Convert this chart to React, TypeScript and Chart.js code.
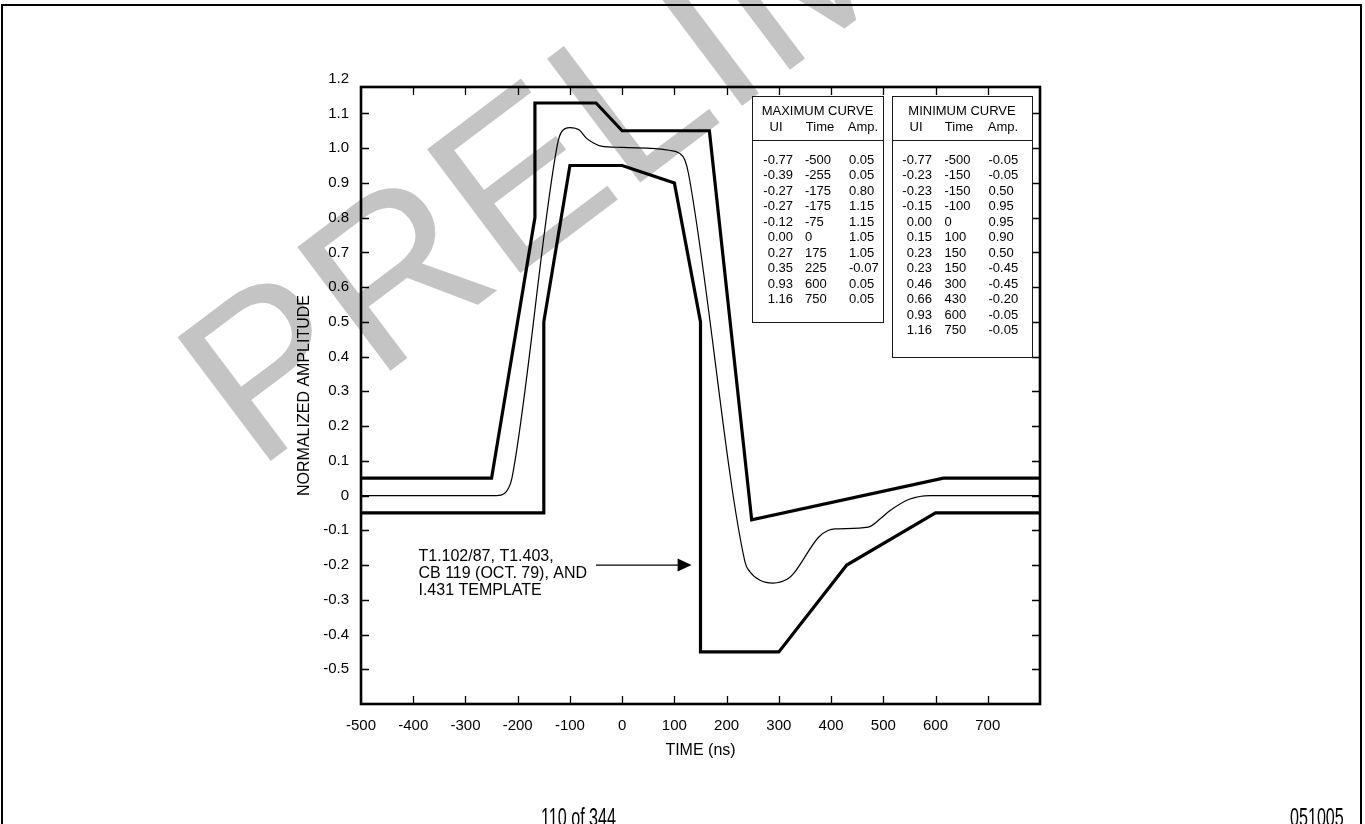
import React, { useEffect, useRef } from "react";
import { Chart, registerables } from "chart.js";

Chart.register(...registerables);

// ---------- data ----------
const maxTime = [-500, -250, -167, -167, -50, 0, 167, 248, 615, 800];
const maxAmp = [0.05, 0.05, 0.8, 1.13, 1.13, 1.05, 1.05, -0.07, 0.05, 0.05];

const minTime = [-500, -150, -150, -100, 0, 100, 150, 150, 300, 430, 600, 800];
const minAmp = [-0.05, -0.05, 0.5, 0.95, 0.95, 0.9, 0.5, -0.45, -0.45, -0.2, -0.05, -0.05];

const pulseTime = [-500, -240, -226, -218, -211, -124, -116, -100, -82, -68, -55, -40, 0, 90, 110, 120, 127, 235, 245, 264, 289, 318, 328, 376, 395, 408, 471, 494, 513, 551, 589, 800];
const pulseAmp = [0, 0, 0.005, 0.02, 0.05, 1.01, 1.047, 1.059, 1.052, 1.028, 1.015, 1.006, 1.002, 0.994, 0.985, 0.966, 0.927, -0.19, -0.22, -0.244, -0.252, -0.239, -0.225, -0.12, -0.1, -0.096, -0.091, -0.067, -0.043, -0.01, 0, 0];

const xTickValues = [-500, -400, -300, -200, -100, 0, 100, 200, 300, 400, 500, 600, 700];
const xTickLabels = ["-500", "-400", "-300", "-200", "-100", "0", "100", "200", "300", "400", "500", "600", "700"];
const xMarkValues = [-400, -300, -200, -100, 0, 100, 200, 300, 400, 500, 600, 700];

const yTickValues = [-0.5, -0.4, -0.3, -0.2, -0.1, 0, 0.1, 0.2, 0.3, 0.4, 0.5, 0.6, 0.7, 0.8, 0.9, 1.0, 1.1, 1.2];
const yTickLabels = ["-0.5", "-0.4", "-0.3", "-0.2", "-0.1", "0", "0.1", "0.2", "0.3", "0.4", "0.5", "0.6", "0.7", "0.8", "0.9", "1.0", "1.1", "1.2"];
const yMarkValues = [-0.5, -0.4, -0.3, -0.2, -0.1, 0, 0.1, 0.2, 0.3, 0.4, 0.5, 0.6, 0.7, 0.8, 0.9, 1.0, 1.1];

const maxUI = ["-0.77", "-0.39", "-0.27", "-0.27", "-0.12", "0.00", "0.27", "0.35", "0.93", "1.16"];
const maxTimeTxt = ["-500", "-255", "-175", "-175", "-75", "0", "175", "225", "600", "750"];
const maxAmpTxt = ["0.05", "0.05", "0.80", "1.15", "1.15", "1.05", "1.05", "-0.07", "0.05", "0.05"];

const minUI = ["-0.77", "-0.23", "-0.23", "-0.15", "0.00", "0.15", "0.23", "0.23", "0.46", "0.66", "0.93", "1.16"];
const minTimeTxt = ["-500", "-150", "-150", "-100", "0", "100", "150", "150", "300", "430", "600", "750"];
const minAmpTxt = ["-0.05", "-0.05", "0.50", "0.95", "0.95", "0.90", "0.50", "-0.45", "-0.45", "-0.20", "-0.05", "-0.05"];

const noteLines = ["T1.102/87, T1.403,", "CB 119 (OCT. 79), AND", "I.431 TEMPLATE"];
const noteTime = -390;
const noteAmps = [-0.176, -0.225, -0.274];
const arrowFrom = [-50, -0.2];
const arrowTo = [133, -0.2];

const FONT = "'Liberation Sans', Arial, Helvetica, sans-serif";

const pts = (xs: number[], ys: number[]) => xs.map((x, i) => ({ x, y: ys[i] }));

const decorPlugin = {
  id: "decor",
  beforeDraw(chart: any) {
    const ctx = chart.ctx;
    ctx.save();
    ctx.fillStyle = "#ffffff";
    ctx.fillRect(0, 0, chart.width, chart.height);
    ctx.translate(256, 472);
    ctx.rotate((-37 * Math.PI) / 180);
    ctx.font = `225px ${FONT}`;
    ctx.fillStyle = "#c4c4c4";
    ctx.textBaseline = "alphabetic";
    ctx.fillText("PRELIMINARY", 0, 0);
    ctx.restore();
  },
  afterDatasetsDraw(chart: any) {
    const { ctx, chartArea: a, scales } = chart;
    const x = scales.x;
    const y = scales.y;
    ctx.save();
    ctx.strokeStyle = "#000";
    ctx.lineWidth = 1.3;
    ctx.beginPath();
    for (const v of xMarkValues) {
      const px = Math.round(x.getPixelForValue(v)) + 0.5;
      ctx.moveTo(px, a.top);
      ctx.lineTo(px, a.top + 8);
      ctx.moveTo(px, a.bottom);
      ctx.lineTo(px, a.bottom - 8);
    }
    for (const v of yMarkValues) {
      const py = Math.round(y.getPixelForValue(v)) + 0.5;
      ctx.moveTo(a.left, py);
      ctx.lineTo(a.left + 8, py);
      ctx.moveTo(a.right, py);
      ctx.lineTo(a.right - 8, py);
    }
    ctx.stroke();
    ctx.lineWidth = 2.6;
    ctx.strokeRect(a.left, a.top, a.right - a.left, a.bottom - a.top);

    // annotation
    ctx.fillStyle = "#000";
    ctx.font = `16px ${FONT}`;
    ctx.textBaseline = "middle";
    ctx.textAlign = "left";
    noteLines.forEach((t, i) => {
      ctx.fillText(t, x.getPixelForValue(noteTime), y.getPixelForValue(noteAmps[i]));
    });
    const x0 = x.getPixelForValue(arrowFrom[0]);
    const y0 = y.getPixelForValue(arrowFrom[1]);
    const x1 = x.getPixelForValue(arrowTo[0]);
    const y1 = y.getPixelForValue(arrowTo[1]);
    ctx.lineWidth = 1.2;
    ctx.beginPath();
    ctx.moveTo(x0, y0);
    ctx.lineTo(x1 - 12, y1);
    ctx.stroke();
    ctx.beginPath();
    ctx.moveTo(x1, y1);
    ctx.lineTo(x1 - 14, y1 - 6.5);
    ctx.lineTo(x1 - 14, y1 + 6.5);
    ctx.closePath();
    ctx.fill();
    ctx.restore();
  },
};

function Table(props: {
  left: number;
  top: number;
  width: number;
  height: number;
  title: string;
  ui: string[];
  time: string[];
  amp: string[];
  uiRight: number;
  timeLeft: number;
  ampLeft: number;
  hdr: number[];
}) {
  const { left, top, width, height, title, ui, time, amp, uiRight, timeLeft, ampLeft, hdr } = props;
  const fs = 13;
  const lh = 15.5;
  const base: React.CSSProperties = {
    position: "absolute",
    fontFamily: FONT,
    fontSize: fs,
    lineHeight: `${lh}px`,
    whiteSpace: "nowrap",
    color: "#000",
  };
  const rowTop = (i: number) => 62.3 + i * 15.5 - lh / 2;
  return (
    <div
      style={{
        position: "absolute",
        left,
        top,
        width,
        height,
        border: "1.5px solid #1a1a1a",
        boxSizing: "border-box",
      }}
    >
      <div style={{ ...base, left: 0, width: width - 3, textAlign: "center", top: 14 - lh / 2 }}>{title}</div>
      <div style={{ ...base, left: hdr[0] - 30, width: 60, textAlign: "center", top: 30 - lh / 2 }}>UI</div>
      <div style={{ ...base, left: hdr[1] - 30, width: 60, textAlign: "center", top: 30 - lh / 2 }}>Time</div>
      <div style={{ ...base, left: hdr[2] - 30, width: 60, textAlign: "center", top: 30 - lh / 2 }}>Amp.</div>
      <div style={{ position: "absolute", left: 0, right: 0, top: 43, height: 0, borderTop: "1.5px solid #1a1a1a" }} />
      {ui.map((u, i) => (
        <React.Fragment key={i}>
          <div style={{ ...base, left: uiRight - 60, width: 60, textAlign: "right", top: rowTop(i) }}>{u}</div>
          <div style={{ ...base, left: timeLeft, top: rowTop(i) }}>{time[i]}</div>
          <div style={{ ...base, left: ampLeft, top: rowTop(i) }}>{amp[i]}</div>
        </React.Fragment>
      ))}
    </div>
  );
}

export default function App() {
  const ref = useRef<HTMLCanvasElement | null>(null);

  useEffect(() => {
    if (!ref.current) return;
    const chart = new Chart(ref.current, {
      type: "line",
      data: {
        datasets: [
          {
            label: "Maximum curve",
            data: pts(maxTime, maxAmp),
            borderColor: "#000",
            borderWidth: 3.2,
            pointRadius: 0,
            tension: 0,
            fill: false,
            borderJoinStyle: "miter",
          },
          {
            label: "Minimum curve",
            data: pts(minTime, minAmp),
            borderColor: "#000",
            borderWidth: 3.2,
            pointRadius: 0,
            tension: 0,
            fill: false,
            borderJoinStyle: "miter",
          },
          {
            label: "Pulse",
            data: pts(pulseTime, pulseAmp),
            borderColor: "#000",
            borderWidth: 1.2,
            pointRadius: 0,
            cubicInterpolationMode: "monotone",
            fill: false,
          },
        ],
      },
      options: {
        responsive: false,
        animation: false,
        events: [],
        layout: { padding: { left: 290, right: 325, top: 87, bottom: 60 } },
        plugins: { legend: { display: false }, tooltip: { enabled: false } },
        scales: {
          x: {
            type: "linear",
            min: -500,
            max: 800,
            border: { display: false },
            grid: { display: false, drawTicks: false },
            afterBuildTicks: (s: any) => {
              s.ticks = xTickValues.map((v) => ({ value: v }));
            },
            afterFit: (s: any) => {
              s.height = 60;
            },
            ticks: {
              autoSkip: false,
              maxRotation: 0,
              padding: 13,
              color: "#000",
              font: { family: FONT, size: 15 },
              callback: (_v: any, i: number) => xTickLabels[i],
            },
            title: {
              display: true,
              text: "TIME (ns)",
              color: "#000",
              font: { family: FONT, size: 16 },
              padding: { top: 0, bottom: 4 },
            },
          },
          y: {
            type: "linear",
            min: -0.6,
            max: 1.176,
            border: { display: false },
            grid: { display: false, drawTicks: false },
            afterBuildTicks: (s: any) => {
              s.ticks = yTickValues.map((v) => ({ value: v }));
            },
            afterFit: (s: any) => {
              s.width = 71;
            },
            ticks: {
              autoSkip: false,
              padding: 12,
              color: "#000",
              font: { family: FONT, size: 15 },
              callback: (_v: any, i: number) => yTickLabels[i],
            },
            title: {
              display: true,
              text: "NORMALIZED AMPLITUDE",
              color: "#000",
              font: { family: FONT, size: 16 },
              padding: { top: 5, bottom: 0 },
            },
          },
        },
      } as any,
      plugins: [decorPlugin],
    });
    return () => chart.destroy();
  }, []);

  const footer: React.CSSProperties = {
    position: "absolute",
    top: 804,
    fontFamily: FONT,
    fontSize: 26,
    lineHeight: "26px",
    color: "#000",
    whiteSpace: "nowrap",
    transform: "scaleX(0.62)",
    transformOrigin: "left top",
  };

  return (
    <div style={{ position: "fixed", left: 0, top: 0, width: 1365, height: 824, overflow: "hidden", background: "#fff" }}>
      <canvas ref={ref} width={1365} height={824} style={{ position: "absolute", left: 0, top: 0, width: 1365, height: 824 }} />
      <div
        style={{
          position: "absolute",
          left: 1,
          top: 4,
          width: 1361,
          height: 900,
          borderTop: "2px solid #000",
          borderLeft: "2px solid #000",
          borderRight: "2px solid #000",
          boxSizing: "border-box",
        }}
      />
      <Table
        left={752}
        top={96}
        width={132}
        height={227}
        title="MAXIMUM CURVE"
        ui={maxUI}
        time={maxTimeTxt}
        amp={maxAmpTxt}
        uiRight={40}
        timeLeft={52}
        ampLeft={96}
        hdr={[23, 67, 110]}
      />
      <Table
        left={892}
        top={96}
        width={141}
        height={262}
        title="MINIMUM CURVE"
        ui={minUI}
        time={minTimeTxt}
        amp={minAmpTxt}
        uiRight={39}
        timeLeft={51.5}
        ampLeft={95.5}
        hdr={[23, 66, 110]}
      />
      <div style={{ ...footer, left: 541 }}>110 of 344</div>
      <div style={{ ...footer, left: 1290 }}>051005</div>
    </div>
  );
}
